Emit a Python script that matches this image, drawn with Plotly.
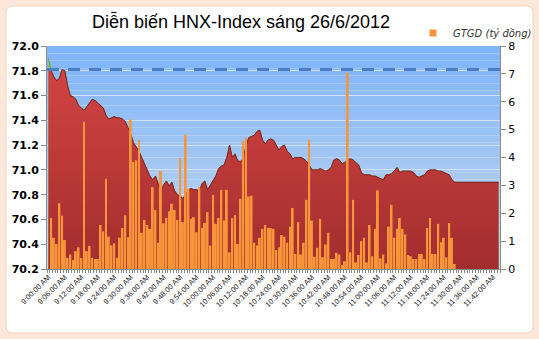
import plotly.graph_objects as go

# ---------------- data ----------------
start_minutes = 9 * 60
categories = []
for k in range(165):
    m = start_minutes + k
    h, mm = divmod(m, 60)
    categories.append(f"{h}:{mm:02d}:00 AM")

hnx_index = [
    71.90, 71.80, 71.75, 71.72, 71.74, 71.81, 71.80, 71.68, 71.60, 71.59,
    71.57, 71.52, 71.50, 71.48, 71.51, 71.54, 71.57, 71.56, 71.54, 71.52,
    71.50, 71.44, 71.41, 71.42, 71.43, 71.42, 71.42, 71.41, 71.39, 71.34,
    71.29, 71.22, 71.19, 71.15, 71.10, 71.05, 70.99, 70.95, 70.92, 70.95,
    70.89, 70.82, 70.88, 70.91, 70.87, 70.90, 70.83, 70.80, 70.79, 70.77,
    70.80, 70.84, 70.85, 70.84, 70.84, 70.83, 70.89, 70.91, 70.84, 70.88,
    70.92, 70.95, 71.01, 71.03, 71.04, 71.10, 71.20, 71.10, 71.13, 71.07,
    71.07, 71.09, 71.20, 71.26, 71.27, 71.28, 71.31, 71.32, 71.24, 71.21,
    71.24, 71.25, 71.24, 71.20, 71.16, 71.19, 71.20, 71.15, 71.13, 71.09,
    71.10, 71.10, 71.10, 71.09, 71.07, 71.04, 71.00, 71.00, 71.00, 71.01,
    71.00, 70.99, 71.00, 71.02, 71.08, 71.09, 71.08, 71.05, 71.06, 71.08,
    71.09, 71.08, 71.06, 71.04, 70.98, 70.96, 70.96, 70.96, 70.95, 70.95,
    70.94, 70.93, 70.92, 70.96, 70.96, 70.97, 70.99, 71.02, 70.98, 70.99,
    70.99, 70.99, 70.99, 70.98, 70.95, 70.94, 70.95, 70.96, 70.99, 71.00,
    71.00, 71.00, 70.99, 70.99, 70.98, 70.97, 70.96, 70.92, 70.90, 70.90,
    70.90, 70.90, 70.90, 70.90, 70.90, 70.90, 70.90, 70.90, 70.90, 70.90,
    70.90, 70.90, 70.90, 70.90, 70.90,
]

gtgd = [
    0.00, 1.83, 1.12, 0.90, 2.36, 1.91, 1.04, 0.40, 0.52, 0.32,
    0.64, 0.78, 0.40, 5.28, 0.64, 0.83, 0.40, 0.36, 0.36, 1.58,
    1.35, 3.24, 1.16, 0.85, 0.92, 0.40, 1.12, 1.47, 1.93, 1.14,
    5.36, 3.84, 3.90, 4.62, 1.30, 1.76, 1.58, 1.44, 2.94, 2.12,
    0.94, 3.51, 1.64, 1.83, 2.07, 2.34, 2.12, 1.76, 3.99, 1.68,
    4.82, 2.88, 1.80, 1.86, 1.32, 2.94, 1.47, 1.65, 2.04, 0.84,
    2.66, 1.62, 1.83, 2.84, 1.74, 2.84, 0.60, 1.83, 1.94, 0.90,
    2.52, 4.59, 4.71, 2.60, 2.63, 0.94, 0.84, 1.12, 1.44, 1.58,
    1.47, 1.47, 1.44, 0.68, 0.78, 1.22, 1.16, 0.94, 1.52, 2.19,
    0.54, 1.68, 0.52, 0.94, 2.48, 4.64, 1.74, 0.44, 0.76, 1.80,
    0.42, 0.88, 1.30, 0.36, 0.36, 0.58, 0.52, 0.14, 0.28, 7.04,
    0.60, 2.48, 0.24, 0.50, 1.00, 1.12, 0.24, 1.58, 0.46, 1.44,
    2.82, 0.38, 0.52, 0.20, 1.52, 2.30, 1.12, 1.44, 1.83, 1.44,
    1.24, 0.50, 0.46, 0.36, 0.36, 0.54, 0.54, 0.36, 1.47, 1.83,
    0.54, 0.54, 1.62, 0.96, 1.12, 0.42, 1.65, 1.12, 0.18,
]

reference_level = 71.81
title_text = "Diễn biến HNX-Index sáng 26/6/2012"
bar_name = "GTGD (tỷ đồng)"
label_step = 6

# ---------------- figure ----------------
W, H = 539, 339
ML, MR, MT, MB = 47, 39, 46, 70
PW, PH = W - ML - MR, H - MT - MB

def px_to_paper_x(px):
    return (px - ML) / PW

def px_to_paper_y(py):
    return (H - MB - py) / PH

xs_index = list(range(len(hnx_index)))
xs_bar = list(range(len(gtgd)))
below_ref = [min(v, reference_level) for v in hnx_index]

fig = go.Figure()

# green part (above reference)
fig.add_trace(go.Scatter(
    x=xs_index, y=hnx_index, mode="lines", fill="tozeroy",
    line=dict(color="#6E9A2A", width=0.8),
    fillcolor="#8DBB3E", showlegend=False, hoverinfo="skip", yaxis="y"))

# red part (below reference)
fig.add_trace(go.Scatter(
    x=xs_index, y=below_ref, mode="lines", fill="tozeroy",
    line=dict(color="#7E2020", width=1),
    fillgradient=dict(type="vertical", start=70.2, stop=72.0,
                      colorscale=[[0, "#A22D2D"], [0.6, "#C23C3C"], [1, "#D44646"]]),
    showlegend=False, hoverinfo="skip", yaxis="y"))

# bars
fig.add_trace(go.Bar(
    x=xs_bar, y=gtgd, name=bar_name, yaxis="y2",
    marker=dict(color="#F7953A", line=dict(width=0)),
    showlegend=False))

# legend-only marker
fig.add_trace(go.Scatter(
    x=[None], y=[None], mode="markers", name=bar_name, yaxis="y2",
    marker=dict(symbol="square", size=7, color="#F7953A"),
    showlegend=True))

shapes = []
# white rounded panel
x0, x1 = px_to_paper_x(6), px_to_paper_x(533)
y0, y1 = px_to_paper_y(333), px_to_paper_y(6)
rx, ry = 7 / PW, 7 / PH
path = (f"M{x0+rx},{y1} L{x1-rx},{y1} Q{x1},{y1} {x1},{y1-ry} "
        f"L{x1},{y0+ry} Q{x1},{y0} {x1-rx},{y0} L{x0+rx},{y0} "
        f"Q{x0},{y0} {x0},{y0+ry} L{x0},{y1-ry} Q{x0},{y1} {x0+rx},{y1} Z")
shapes.append(dict(type="path", xref="paper", yref="paper", path=path,
                   fillcolor="white", line=dict(color="#F3D3BE", width=1),
                   layer="below"))

# plot-area vertical gradient (bottom light -> top blue)
n_strips = 30
c_bot = (198, 216, 236)
c_top = (126, 180, 250)
for s in range(n_strips):
    t = (s + 0.5) / n_strips
    c = tuple(round(c_bot[j] + (c_top[j] - c_bot[j]) * t) for j in range(3))
    shapes.append(dict(type="rect", xref="paper", yref="paper",
                       x0=0, x1=1, y0=s / n_strips, y1=(s + 1) / n_strips,
                       fillcolor=f"rgb{c}", line=dict(width=0), layer="below"))

# reference dashed line
shapes.append(dict(type="line", xref="paper", yref="y", x0=0, x1=1,
                   y0=reference_level, y1=reference_level,
                   line=dict(color="#4D7EC2", width=3, dash="12px,9px"),
                   layer="above"))

fig.update_layout(
    width=W, height=H,
    margin=dict(l=ML, r=MR, t=MT, b=MB, pad=0, autoexpand=False),
    paper_bgcolor="#FCE7D8",
    plot_bgcolor="#7EB4FA",
    bargap=0.3,
    shapes=shapes,
    title=dict(text=title_text, x=241 / W, xanchor="center",
               y=1 - 22 / H, yanchor="middle", xref="container", yref="container",
               font=dict(family="Liberation Sans, Arial, sans-serif", size=18, color="#000000")),
    legend=dict(x=px_to_paper_x(537), xanchor="right",
                y=px_to_paper_y(33), yanchor="middle",
                bgcolor="rgba(0,0,0,0)", borderwidth=0,
                itemwidth=30, tracegroupgap=0,
                font=dict(family="DejaVu Sans", size=10, color="#333333", style="italic")),
    xaxis=dict(
        range=[-0.5, len(categories) - 0.5],
        tickmode="array",
        tickvals=xs_index[::label_step],
        ticktext=categories[::label_step],
        tickangle=-45,
        ticks="",
        tickfont=dict(family="Liberation Sans, Arial", size=7.5, color="#222222"),
        showline=True, linecolor="#8A8A8A", linewidth=1,
        showgrid=False, zeroline=False,
        minor=dict(ticks="outside", tick0=-0.5, dtick=1, ticklen=3,
                   tickcolor="#8A8A8A", tickwidth=1, showgrid=False),
    ),
    yaxis=dict(
        range=[70.2, 72.0], dtick=0.2, tick0=70.2, tickformat=".1f",
        showgrid=True, gridcolor="#D2E2F8", gridwidth=1,
        ticks="outside", ticklen=5, tickcolor="#8A8A8A",
        showline=True, linecolor="#8A8A8A", linewidth=1,
        zeroline=False,
        tickfont=dict(family="DejaVu Sans", size=11, color="#000000", weight="bold"),
    ),
    yaxis2=dict(
        range=[0, 8], dtick=1, overlaying="y", side="right",
        showgrid=False, zeroline=False,
        ticks="outside", ticklen=5, tickcolor="#8A8A8A",
        showline=True, linecolor="#8A8A8A", linewidth=1,
        tickfont=dict(family="DejaVu Sans", size=11, color="#000000"),
    ),
)

fig.write_html("out.html")
